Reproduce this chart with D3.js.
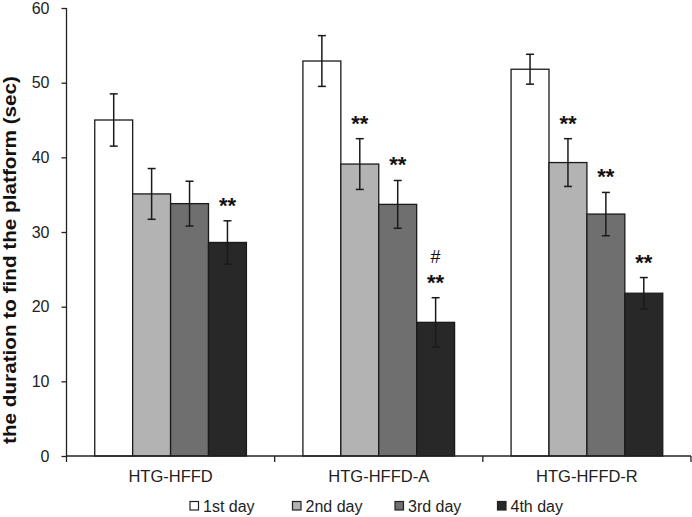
<!DOCTYPE html>
<html><head><meta charset="utf-8">
<script src="https://cdn.jsdelivr.net/npm/d3@7"></script>
<style>body{margin:0;background:#fff}svg{display:block}text{font-family:Arial,"Liberation Sans",sans-serif}</style>
</head><body><svg id="c" width="692" height="517"></svg>
<script>
const categories = ["HTG-HFFD", "HTG-HFFD-A", "HTG-HFFD-R"];
const days = ["1st day", "2nd day", "3rd day", "4th day"];
const day1 = [45.0, 52.9, 51.8];
const day2 = [35.1, 39.1, 39.3];
const day3 = [33.8, 33.7, 32.4];
const day4 = [28.6, 17.9, 21.8];
const err1 = [3.5, 3.4, 2.0];
const err2 = [3.4, 3.4, 3.2];
const err3 = [3.0, 3.2, 2.9];
const err4 = [2.9, 3.3, 2.1];
const sig1 = ["", "", ""];
const sig2 = ["", "**", "**"];
const sig3 = ["", "**", "**"];
const sig4 = ["**", "#\n**", "**"];
const yTicks = [0, 10, 20, 30, 40, 50, 60];
const colors = ["#ffffff", "#b3b3b3", "#6f6f6f", "#282828"];

const values = [day1, day2, day3, day4];
const errs = [err1, err2, err3, err4];
const sigs = [sig1, sig2, sig3, sig4];
const rows = [];
categories.forEach((c, ci) => days.forEach((d, di) => rows.push({c, d, di, v: values[di][ci], e: errs[di][ci], s: sigs[di][ci]})));

const svg = d3.select("#c");
const L = 66.5, R = 691, T = 8, B = 456;
const x0 = d3.scaleBand().domain(categories).range([L, R]).padding(0);
const x1 = d3.scaleBand().domain(days).range([0, x0.bandwidth()]).paddingInner(0).paddingOuter(0.745);
const y = d3.scaleLinear().domain([0, 60]).range([B, T]);

// bars
const g = svg.append("g");
g.selectAll("rect").data(rows).join("rect")
  .attr("x", d => x0(d.c) + x1(d.d))
  .attr("y", d => y(d.v))
  .attr("width", x1.bandwidth())
  .attr("height", d => y(0) - y(d.v))
  .attr("fill", d => colors[d.di])
  .attr("stroke", "#1a1a1a").attr("stroke-width", 1.3);

// error bars
const eb = svg.append("g").attr("stroke", "#1a1a1a").attr("stroke-width", 1.5);
rows.forEach(d => {
  const cx = x0(d.c) + x1(d.d) + x1.bandwidth() / 2;
  eb.append("line").attr("x1", cx).attr("x2", cx).attr("y1", y(d.v + d.e)).attr("y2", y(d.v - d.e));
  [d.v + d.e, d.v - d.e].forEach(v => eb.append("line").attr("x1", cx - 4).attr("x2", cx + 4).attr("y1", y(v)).attr("y2", y(v)));
});

// significance marks
rows.filter(d => d.s).forEach(d => {
  const cx = x0(d.c) + x1(d.d) + x1.bandwidth() / 2;
  const lines = d.s.split("\n").reverse();
  lines.forEach((t, i) => {
    const isHash = t === "#";
    svg.append("text").attr("x", cx).attr("y", isHash ? y(d.v + d.e) - 35 : y(d.v + d.e) - 8)
      .attr("text-anchor", "middle").attr("font-weight", isHash ? "normal" : "bold")
      .attr("font-size", isHash ? 18 : 22).attr("fill", "#111").text(t);
  });
});

// y axis
const ya = svg.append("g").attr("transform", `translate(${L},0)`)
  .call(d3.axisLeft(y).tickValues(yTicks).tickSize(5).tickPadding(12));
ya.select(".domain").attr("stroke", "#222").attr("stroke-width", 1.3).attr("d", `M0,${T}V${B}`);
ya.selectAll(".tick line").attr("stroke", "#222").attr("stroke-width", 1.3);
ya.selectAll(".tick text").attr("font-size", 16).attr("fill", "#222").attr("font-family", "Arial, 'Liberation Sans', sans-serif");

// x axis
const xa = svg.append("g").attr("transform", `translate(0,${B})`)
  .call(d3.axisBottom(x0).tickSize(0).tickPadding(14));
xa.select(".domain").attr("stroke", "#222").attr("stroke-width", 1.3).attr("d", `M${L},0H${R}`);
xa.selectAll(".tick text").attr("font-size", 16.5).attr("fill", "#222").attr("font-family", "Arial, 'Liberation Sans', sans-serif");
const bounds = [L].concat(categories.map(c => x0(c) + x0.bandwidth()));
xa.selectAll(".bt").data(bounds).join("line").attr("class", "bt")
  .attr("x1", d => d).attr("x2", d => d).attr("y1", 0).attr("y2", 6)
  .attr("stroke", "#222").attr("stroke-width", 1.3);

// y label
svg.append("text").attr("transform", "translate(16,260) rotate(-90)")
  .attr("text-anchor", "middle").attr("font-weight", "bold").attr("font-size", 18)
  .attr("textLength", 368).attr("lengthAdjust", "spacingAndGlyphs")
  .attr("fill", "#111").text("the duration to find the platform (sec)");

// legend
const lg = svg.append("g").attr("transform", "translate(190,506)");
days.forEach((d, i) => {
  const it = lg.append("g").attr("transform", `translate(${i * 102.5},0)`);
  it.append("rect").attr("x", 0).attr("y", -4.5).attr("width", 8.5).attr("height", 8.5)
    .attr("fill", colors[i]).attr("stroke", "#222").attr("stroke-width", 1.2);
  it.append("text").attr("x", 13).attr("y", 6).attr("font-size", 16).attr("fill", "#222").text(d);
});
</script></body></html>
